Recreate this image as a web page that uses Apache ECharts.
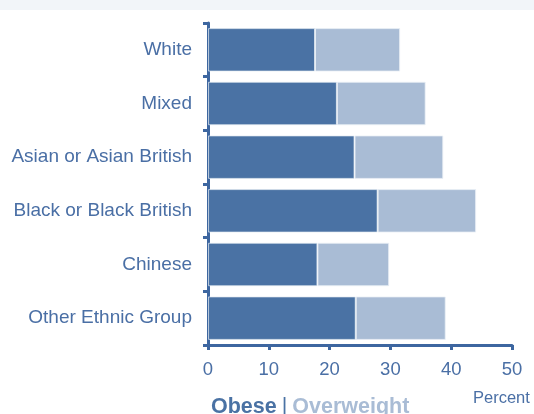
<!DOCTYPE html>
<html><head><meta charset="utf-8">
<script src="https://cdn.jsdelivr.net/npm/echarts@6/dist/echarts.min.js"></script>
<style>html,body{margin:0;padding:0;background:#fff}#c{width:534px;height:414px}</style>
</head><body><div id="c"></div>
<script>
const categories = ["White","Mixed","Asian or Asian British","Black or Black British","Chinese","Other Ethnic Group"];
const obese = [17.6, 21.2, 24.1, 27.9, 18.0, 24.3];
const overweight = [14.0, 14.6, 14.6, 16.2, 11.8, 14.8];
const xTicks = [0, 10, 20, 30, 40, 50];

const axisColor = '#3d66a0';
const textColor = '#4a6fa5';
const ff = 'Liberation Sans, Arial, sans-serif';
const chart = echarts.init(document.getElementById('c'), null, {renderer:'canvas'});
chart.setOption({
  animation: false,
  backgroundColor: '#fff',
  title: {
    left: 211, top: 396, padding: 0,
    text: '{a|Obese} {b||} {c|Overweight}',
    textStyle: {
      rich: {
        a: {fontFamily:ff, fontSize:21.5, fontWeight:'bold', color:'#4a72a4'},
        b: {fontFamily:ff, fontSize:21.5, fontWeight:'normal', color:'#4a72a4'},
        c: {fontFamily:ff, fontSize:21.5, fontWeight:'bold', color:'#a9bcd5'}
      }
    }
  },
  graphic: [
    {type:'rect', shape:{x:0,y:0,width:534,height:10}, style:{fill:'#f2f5f9'}, silent:true},
    {type:'text', left:473, top:390, style:{text:'Percent', font:'16.5px "Liberation Sans", Arial, sans-serif', fill:textColor}}
  ],
  grid: {left:208, right:22, top:23, bottom:69, containLabel:false},
  xAxis: {
    type:'value', min:0, max:50, interval:10,
    axisLine:{show:true, lineStyle:{color:axisColor, width:3}},
    axisTick:{show:true, length:5, lineStyle:{color:axisColor, width:3}},
    splitLine:{show:false},
    axisLabel:{color:textColor, fontSize:18.5, fontFamily:ff, margin:15,
      formatter: v => xTicks.includes(v) ? String(v) : ''}
  },
  yAxis: {
    type:'category', data:categories, inverse:true,
    axisLine:{show:true, lineStyle:{color:axisColor, width:3}},
    axisTick:{show:true, length:5, lineStyle:{color:axisColor, width:3}},
    axisLabel:{color:textColor, fontSize:19, fontFamily:ff, margin:16}
  },
  series: [
    {name:'Obese', type:'bar', stack:'t', data:obese, barCategoryGap:'19%',
      itemStyle:{color:'#4a72a4', borderColor:'rgba(230,236,244,0.7)', borderWidth:1}},
    {name:'Overweight', type:'bar', stack:'t', data:overweight, barCategoryGap:'19%',
      itemStyle:{color:'#a9bcd5', borderColor:'rgba(235,240,246,0.8)', borderWidth:1}}
  ]
});
</script></body></html>
